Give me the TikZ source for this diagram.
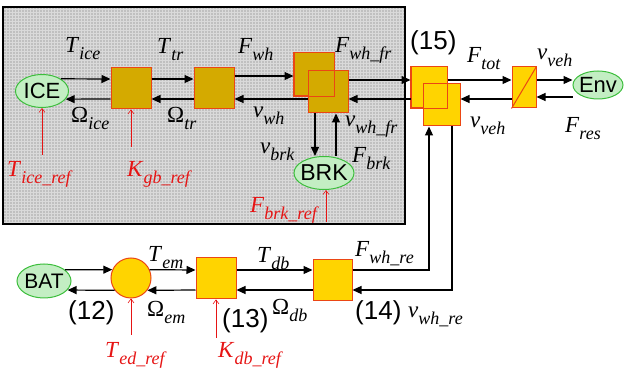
\documentclass[tikz,border=0pt]{standalone}
\usepackage{fontspec}
\setmainfont{Liberation Serif}
\newfontfamily\sansf{Liberation Sans}
\usetikzlibrary{arrows.meta,shapes.geometric}
\definecolor{gold}{RGB}{212,170,0}
\definecolor{ylw}{RGB}{255,212,0}
\definecolor{bord}{RGB}{235,70,20}
\definecolor{grn}{RGB}{195,238,195}
\definecolor{grnb}{RGB}{60,190,60}
\definecolor{rd}{RGB}{230,20,20}
\definecolor{bgg}{RGB}{192,192,192}
\definecolor{bgl}{RGB}{218,218,218}
\newcommand\lb[2]{\fontsize{23}{23}\selectfont\textit{#1}\raisebox{-7pt}{\fontsize{18}{18}\selectfont\textit{#2}}}
\newcommand\lbO[1]{\fontsize{23}{23}\selectfont Ω\raisebox{-7pt}{\fontsize{18}{18}\selectfont\textit{#1}}}
\begin{document}
\begin{tikzpicture}[x=1pt,y=-1pt,
  blkin/.style={rectangle,draw=bord,fill=gold,line width=1pt,inner sep=0},
  blkout/.style={rectangle,draw=bord,fill=ylw,line width=1pt,inner sep=0},
  ell/.style={ellipse,draw=grnb,fill=grn,line width=1pt,inner sep=0},
  sans/.style={inner sep=0},
  arr/.style={-{Triangle[length=9pt,width=8pt]},line width=1.2pt},
  refarr/.style={draw=rd,-{Straight Barb[length=4pt,width=6pt]},line width=0.6pt},
  lab/.style={anchor=base west,inner sep=0},
  rlab/.style={lab,text=rd}]
\useasboundingbox (0,0) rectangle (625,374);
% grey frame
\fill[bgg] (3,7) rectangle (405,224);
\draw[bgl,line width=0.5pt,step=3pt] (3,7) grid (405,224);
\draw[line width=1.3pt] (3,7) rectangle (405,224);
% levels
\coordinate (yA) at (0,79);
\coordinate (yB) at (0,99);
\coordinate (yC) at (0,76);
\coordinate (yD) at (0,80);
\coordinate (yE) at (0,97);
\coordinate (yL) at (0,270);
\coordinate (yM) at (0,290);
\coordinate (v1) at (315,0);
\coordinate (v2) at (336,0);
\coordinate (u1) at (429,0);
\coordinate (u2) at (452,0);
% nodes
\node[ell,minimum width=53pt,minimum height=33pt] (ice) at (42,91) {};
\node[sans,font=\sansf\fontsize{22}{22}\selectfont] (icet) at (ice) {ICE};
\node[blkin,minimum width=40pt,minimum height=41pt] (gb) at (131,88.5) {};
\node[blkin,minimum width=40pt,minimum height=41pt] (tr) at (214,88.5) {};
\node[blkin,minimum width=40pt,minimum height=43pt] (wf1) at (314,74.5) {};
\node[blkin,minimum width=40pt,minimum height=42pt] (wf2) at (328,92) {};
\draw[bord,line width=1pt] (wf1.south west) rectangle (wf1.north east);
\node[ell,minimum width=60pt,minimum height=33pt] (brk) at (324,173) {};
\node[sans,font=\sansf\fontsize{23}{23}\selectfont] (brkt) at (brk) {BRK};
\node[blkout,minimum width=36pt,minimum height=41pt] (c1) at (429,87.5) {};
\node[blkout,minimum width=37pt,minimum height=42pt] (c2) at (441.5,105) {};
\draw[bord,line width=1pt] (c1.south west) rectangle (c1.north east);
\node[blkout,minimum width=24pt,minimum height=41pt] (ch) at (524,87.5) {};
\draw[bord,line width=1pt] (ch.south west) -- (ch.north east);
\node[ell,minimum width=50pt,minimum height=28pt] (env) at (598,85) {};
\node[sans,font=\sansf\fontsize{22}{22}\selectfont] (envt) at (env) {Env};
\node[ell,minimum width=54pt,minimum height=34pt] (bat) at (44,281) {};
\node[sans,font=\sansf\fontsize{21}{21}\selectfont] (batt) at (bat) {BAT};
\node[circle,draw=bord,fill=ylw,line width=1pt,inner sep=0,minimum size=40pt] (em) at (131,278) {};
\node[blkout,minimum width=40pt,minimum height=41pt] (db) at (216,278.5) {};
\node[blkout,minimum width=39pt,minimum height=41pt] (wr) at (332.5,280.5) {};
% top chain arrows
\draw[arr] (ice.33) -- (gb.west |- yA);
\draw[arr] (gb.east |- yA) -- (tr.west |- yA);
\draw[arr] (tr.east |- yC) -- (wf1.west |- yC);
\draw[arr] (wf2.east |- yD) -- (c1.west |- yD);
\draw[arr] (c1.east |- yD) -- (ch.west |- yD);
\draw[arr] (ch.east |- yD) -- (env.west |- yD);
\draw[arr] (env.west |- yE) -- (ch.east |- yE);
\draw[arr] (ch.west |- yB) -- (c2.east |- yB);
\draw[arr] (c1.west |- yB) -- (wf2.east |- yB);
\draw[arr] (wf2.west |- yB) -- (tr.east |- yB);
\draw[arr] (tr.west |- yB) -- (gb.east |- yB);
\draw[arr] (gb.west |- yB) -- (ice.-19);
\draw[arr] (wf2.south -| v1) -- (brk.north -| v1);
\draw[arr] (brk.north -| v2) -- (wf2.south -| v2);
% bottom chain
\draw[arr] (bat.28) -- (em.156);
\draw[arr] (em.24) -- (db.west |- yL);
\draw[arr] (db.east |- yL) -- (wr.west |- yL);
\draw[arr] (wr.east |- yL) -| (c2.south -| u1);
\draw[arr] (c2.south -| u2) |- (wr.east |- yM);
\draw[arr] (wr.west |- yM) -- (db.east |- yM);
\draw[arr] (db.west |- yM) -- (em.-37);
\draw[arr] (em.-143) -- (bat.-21);
% reference arrows
\coordinate (tir) at (42,155);
\coordinate (kgr) at (131,147);
\coordinate (fbr) at (326,222);
\coordinate (ter) at (131,335);
\coordinate (kdr) at (216,338);
\draw[refarr] (tir) -- (ice.south);
\draw[refarr] (kgr) -- (gb.south);
\draw[refarr] (fbr) -- (brk.south -| fbr);
\draw[refarr] (ter) -- (em.south);
\draw[refarr] (kdr) -- (db.south);
% labels
\node[lab] (lTice) at (65,53) {\lb{T}{ice}};
\node[lab] (lTtr) at (157,54) {\lb{T}{tr}};
\node[lab] (lFwh) at (238,54) {\lb{F}{wh}};
\node[lab] (lFwhfr) at (335,53) {\lb{F}{wh\_fr}};
\node[lab] (lOice) at (71,123) {\lbO{ice}};
\node[lab] (lOtr) at (167,123) {\lbO{tr}};
\node[lab] (lvwh) at (253,118) {\lb{v}{wh}};
\node[lab] (lvbrk) at (260,154) {\lb{v}{brk}};
\node[lab] (lvwhfr) at (345,127) {\lb{v}{wh\_fr}};
\node[lab] (lFbrk) at (352,163) {\lb{F}{brk}};
\node[rlab] (lTiceref) at (7,177) {\lb{T}{ice\_ref}};
\node[rlab] (lKgbref) at (127,177) {\lb{K}{gb\_ref}};
\node[rlab] (lFbrkref) at (250,213) {\lb{F}{brk\_ref}};
\node[lab,font=\sansf\fontsize{26}{26}\selectfont] (n15) at (410,50) {(15)};
\node[lab] (lFtot) at (467,63) {\lb{F}{tot}};
\node[lab] (lvveh) at (537,60) {\lb{v}{veh}};
\node[lab] (lvveh2) at (470,128) {\lb{v}{veh}};
\node[lab] (lFres) at (565,133) {\lb{F}{res}};
\node[lab] (lTem) at (148,262) {\lb{T}{em}};
\node[lab] (lTdb) at (257,263) {\lb{T}{db}};
\node[lab] (lFwhre) at (355,257) {\lb{F}{wh\_re}};
\node[lab,font=\sansf\fontsize{26}{26}\selectfont] (n12) at (68,320) {(12)};
\node[lab] (lOem) at (147,317) {\lbO{em}};
\node[lab,font=\sansf\fontsize{26}{26}\selectfont] (n13) at (222,328) {(13)};
\node[lab] (lOdb) at (272,315) {\lbO{db}};
\node[lab,font=\sansf\fontsize{26}{26}\selectfont] (n14) at (355,320) {(14)};
\node[lab] (lvwhre) at (408,318) {\lb{v}{wh\_re}};
\node[rlab] (lTedref) at (105,358) {\lb{T}{ed\_ref}};
\node[rlab] (lKdbref) at (218,358) {\lb{K}{db\_ref}};
\end{tikzpicture}
\end{document}
